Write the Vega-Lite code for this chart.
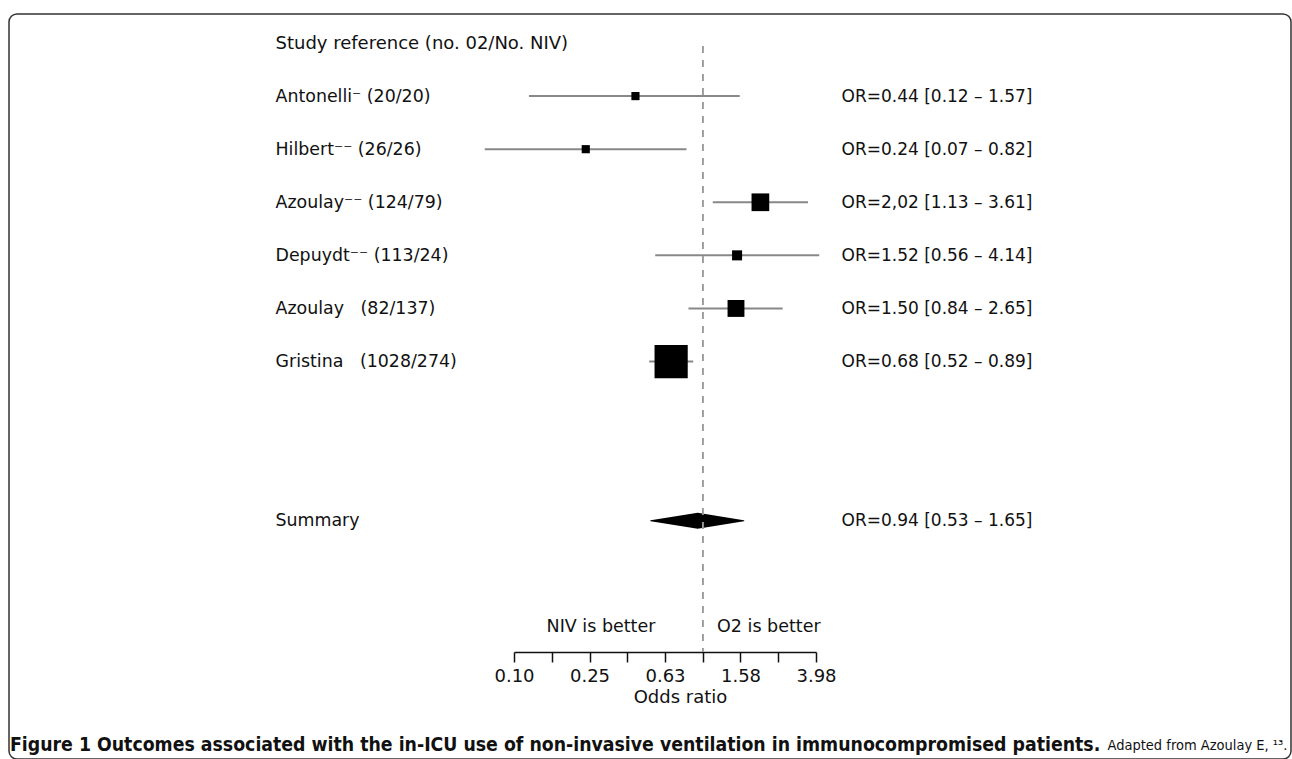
{
  "$schema": "https://vega.github.io/schema/vega-lite/v6.json",
  "width": 1282,
  "height": 745,
  "autosize": "none",
  "padding": {"left": 9, "top": 14, "right": 1, "bottom": 0},
  "background": "white",
  "config": {
    "view": {"stroke": "#333333", "strokeWidth": 1.5, "cornerRadius": 8},
    "font": "DejaVu Sans",
    "axis": {"labelFont": "DejaVu Sans", "titleFont": "DejaVu Sans", "labelColor": "#111111", "titleColor": "#111111", "grid": false}
  },
  "title": {
    "text": "Figure 1 Outcomes associated with the in-ICU use of non-invasive ventilation in immunocompromised patients.",
    "orient": "bottom",
    "anchor": "start",
    "frame": "group",
    "offset": -14,
    "baseline": "middle",
    "dx": 1,
    "font": "DejaVu Sans Condensed, Roboto",
    "fontSize": 19.3,
    "fontWeight": "bold",
    "color": "#111111"
  },
  "datasets": {
    "studies": [
      {"study": "Antonelli⁻ (20/20)", "ortext": "OR=0.44 [0.12 – 1.57]", "or": 0.44, "lo": 0.12, "hi": 1.57, "weight": 3.5},
      {"study": "Hilbert⁻⁻ (26/26)", "ortext": "OR=0.24 [0.07 – 0.82]", "or": 0.24, "lo": 0.07, "hi": 0.82, "weight": 3.5},
      {"study": "Azoulay⁻⁻ (124/79)", "ortext": "OR=2,02 [1.13 – 3.61]", "or": 2.02, "lo": 1.13, "hi": 3.61, "weight": 16.5},
      {"study": "Depuydt⁻⁻ (113/24)", "ortext": "OR=1.52 [0.56 – 4.14]", "or": 1.52, "lo": 0.56, "hi": 4.14, "weight": 5.3},
      {"study": "Azoulay\u00a0\u00a0\u00a0(82/137)", "ortext": "OR=1.50 [0.84 – 2.65]", "or": 1.50, "lo": 0.84, "hi": 2.65, "weight": 15},
      {"study": "Gristina\u00a0\u00a0\u00a0(1028/274)", "ortext": "OR=0.68 [0.52 – 0.89]", "or": 0.68, "lo": 0.52, "hi": 0.89, "weight": 58}
    ],
    "summary": [
      {"study": "Summary", "or": 0.53, "h": 0},
      {"study": "Summary", "or": 0.94, "h": 1},
      {"study": "Summary", "or": 1.65, "h": 0}
    ]
  },
  "layer": [
    {
      "encoding": {
        "y": {
          "field": "study", "type": "nominal",
          "scale": {
            "type": "point",
            "domain": ["Study reference (no. 02/No. NIV)", "Antonelli⁻ (20/20)", "Hilbert⁻⁻ (26/26)", "Azoulay⁻⁻ (124/79)", "Depuydt⁻⁻ (113/24)", "Azoulay\u00a0\u00a0\u00a0(82/137)", "Gristina\u00a0\u00a0\u00a0(1028/274)", "_gap1", "_gap2", "Summary", "_gap3", "_better"],
            "range": [29, 613], "padding": 0
          },
          "axis": {
            "orient": "left", "offset": -266, "domain": false, "ticks": false, "tickSize": 0, "labelPadding": 0,
            "labelAlign": "left", "labelBaseline": "middle", "labelLimit": 600,
            "labelFontSize": {"condition": {"test": "datum.value == 'Study reference (no. 02/No. NIV)'", "value": 18}, "value": 17.4},
            "labelExpr": "slice(datum.label, 0, 1) == '_' ? '' : datum.label",
            "title": "Adapted from Azoulay E, ¹³.", "titleAngle": 0, "titleAlign": "left", "titleBaseline": "middle",
            "titleX": 832, "titleY": 731, "titleFont": "DejaVu Sans Condensed, Roboto", "titleFontSize": 14.5, "titleFontWeight": "normal"
          }
        }
      },
      "layer": [
        {
          "data": {"name": "studies"},
          "mark": {"type": "rule", "color": "#888888", "strokeWidth": 2},
          "encoding": {
            "x": {
              "field": "lo", "type": "quantitative",
              "scale": {"type": "log", "domain": [0.1, 3.98107], "range": [505, 807], "nice": false, "zero": false},
              "axis": {
                "orient": "bottom", "offset": -107, "values": [0.1, 0.15849, 0.25119, 0.39811, 0.63096, 1, 1.58489, 2.51189, 3.98107],
                "labelExpr": "round(log(datum.value) / LN10 * 5) % 2 != 0 ? format(datum.value, '.2f') : ''",
                "domainColor": "#111111", "domainWidth": 1.5, "tickColor": "#111111", "tickWidth": 1.5, "tickSize": 10,
                "labelPadding": 5, "labelFontSize": 18, "labelFlush": false, "labelOverlap": false,
                "title": "Odds ratio", "titleFontSize": 18, "titleFontWeight": "normal", "titleX": 671, "titleY": 45, "titleBaseline": "middle", "titleAlign": "center"
              }
            },
            "x2": {"field": "hi"}
          }
        },
        {
          "data": {"name": "summary"},
          "mark": {"type": "trail", "color": "black"},
          "encoding": {
            "x": {"field": "or", "type": "quantitative", "scale": {"type": "log", "domain": [0.1, 3.98107], "range": [505, 807], "nice": false, "zero": false}},
            "size": {"field": "h", "type": "quantitative", "scale": {"domain": [0, 1], "range": [0, 16]}, "legend": null}
          }
        },
        {
          "data": {"name": "summary"},
          "mark": {"type": "rule", "color": "#999999", "strokeWidth": 1.5, "strokeDash": [7, 7], "yOffset": 3, "y2Offset": 25},
          "encoding": {
            "x": {"datum": 1, "type": "quantitative", "scale": {"type": "log", "domain": [0.1, 3.98107], "range": [505, 807], "nice": false, "zero": false}},
            "y": {"datum": "Study reference (no. 02/No. NIV)"},
            "y2": {"datum": "_better"}
          }
        },
        {
          "data": {"values": [{"label": "NIV is better"}]},
          "mark": {"type": "text", "fontSize": 17.5, "align": "center", "baseline": "middle", "color": "#111111"},
          "encoding": {
            "x": {"datum": 0.289, "type": "quantitative", "scale": {"type": "log", "domain": [0.1, 3.98107], "range": [505, 807], "nice": false, "zero": false}},
            "y": {"datum": "_better"},
            "text": {"field": "label"}
          }
        },
        {
          "data": {"values": [{"label": "O2 is better"}]},
          "mark": {"type": "text", "fontSize": 17.5, "align": "center", "baseline": "middle", "color": "#111111"},
          "encoding": {
            "x": {"datum": 2.24, "type": "quantitative", "scale": {"type": "log", "domain": [0.1, 3.98107], "range": [505, 807], "nice": false, "zero": false}},
            "y": {"datum": "_better"},
            "text": {"field": "label"}
          }
        }
      ]
    },
    {
      "data": {"name": "studies"},
      "mark": {"type": "point", "shape": "square", "filled": true, "color": "black", "opacity": 1},
      "encoding": {
        "x": {"field": "or", "type": "quantitative", "scale": {"type": "log", "domain": [0.1, 3.98107], "range": [505, 807], "nice": false, "zero": false}},
        "y": {
          "field": "ortext", "type": "nominal",
          "scale": {
            "type": "point",
            "domain": ["_head", "OR=0.44 [0.12 – 1.57]", "OR=0.24 [0.07 – 0.82]", "OR=2,02 [1.13 – 3.61]", "OR=1.52 [0.56 – 4.14]", "OR=1.50 [0.84 – 2.65]", "OR=0.68 [0.52 – 0.89]", "_gap1", "_gap2", "OR=0.94 [0.53 – 1.65]", "_gap3", "_better"],
            "range": [29, 613], "padding": 0
          },
          "axis": {
            "orient": "right", "offset": -450, "domain": false, "ticks": false, "tickSize": 0, "labelPadding": 0,
            "labelAlign": "left", "labelBaseline": "middle", "labelFontSize": 17, "labelLimit": 600,
            "labelExpr": "slice(datum.label, 0, 1) == '_' ? '' : datum.label",
            "title": null
          }
        },
        "size": {"field": "weight", "type": "quantitative", "scale": {"domain": [0, 100], "range": [0, 1900]}, "legend": null}
      }
    }
  ],
  "resolve": {"scale": {"y": "independent", "size": "independent"}, "axis": {"y": "independent"}}
}
